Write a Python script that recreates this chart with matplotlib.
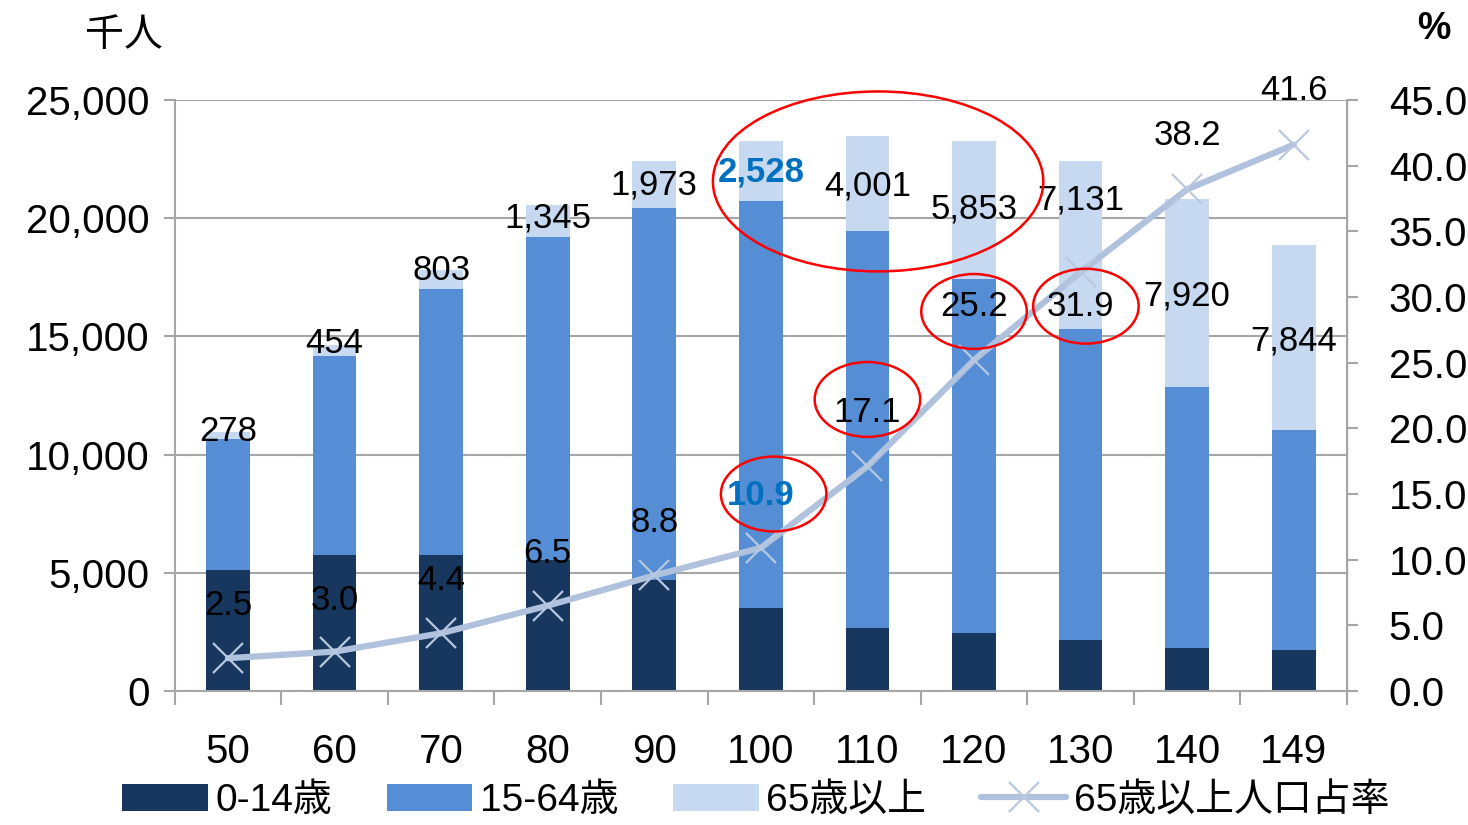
import matplotlib
matplotlib.use("Agg")
import matplotlib.pyplot as plt
from matplotlib.patches import Ellipse
from matplotlib.ticker import FuncFormatter, FixedLocator
import numpy as np

# 年度 (民国) と人口構成 (千人)
years = ["50", "60", "70", "80", "90", "100", "110", "120", "130", "140", "149"]
age_0_14 = [5120, 5750, 5750, 5540, 4700, 3510, 2660, 2450, 2160, 1820, 1730]
age_15_64 = [5560, 8430, 11250, 13680, 15750, 17230, 16810, 14970, 13140, 11060, 9300]
age_65 = [278, 454, 803, 1345, 1973, 2528, 4001, 5853, 7131, 7920, 7844]
ratio_65 = [2.5, 3.0, 4.4, 6.5, 8.8, 10.9, 17.1, 25.2, 31.9, 38.2, 41.6]

# ラベル位置の調整 (千人 / %)
label_shift_65 = [0, 80, 0, -560, -1000, -1300, -2100, -2900, -1650, -4070, -4060]
label_shift_ratio = [4.0, 3.9, 4.0, 4.0, 4.0, 4.0, 4.1, 4.1, -2.6, 4.1, 4.1]
highlight = {5}

C_DARK = "#17375E"
C_MID = "#558ED5"
C_LIGHT = "#C6D9F1"
C_LINE = "#B0C1DD"
C_BLUE = "#0070C0"

CJK = ["Liberation Sans", "Noto Sans CJK JP"]
plt.rcParams["font.family"] = CJK

fig = plt.figure(figsize=(14.68, 8.25), dpi=100)
ax = fig.add_axes([0.119, 0.1624, 0.7986, 0.7164])
ax2 = ax.twinx()

x = np.arange(len(years))
a = np.array(age_0_14)
b = np.array(age_15_64)
c = np.array(age_65)
w = 0.41
ax.bar(x, a, w, color=C_DARK, label="0-14歳", zorder=2)
ax.bar(x, b, w, bottom=a, color=C_MID, label="15-64歳", zorder=2)
ax.bar(x, c, w, bottom=a + b, color=C_LIGHT, label="65歳以上", zorder=2)

ax2.plot(x, ratio_65, color=C_LINE, lw=4.5, marker="x", ms=22, mew=1.6,
         mec="#B8C8E0", label="65歳以上人口占率", zorder=3, solid_capstyle="round")

ax.set_xlim(-0.5, len(years) - 0.5)
ax.set_ylim(0, 25000)
ax2.set_ylim(0, 45)
ax.set_yticks(np.arange(0, 25001, 5000))
ax2.set_yticks(np.arange(0, 45.1, 5))
ax.yaxis.set_major_formatter(FuncFormatter(lambda v, p: f"{v:,.0f}"))
ax2.yaxis.set_major_formatter(FuncFormatter(lambda v, p: f"{v:.1f}"))
ax.grid(axis="y", color="#A6A6A6", lw=1.5, zorder=0)
ax.set_axisbelow(True)

ax.set_xticks(x)
ax.set_xticklabels(years)
ax.xaxis.set_minor_locator(FixedLocator(np.arange(-0.5, len(years), 1)))
ax.tick_params(axis="x", which="major", length=0, pad=30, labelsize=29)
ax.tick_params(axis="x", which="minor", length=10, width=1.5, color="#A6A6A6")
ax.tick_params(axis="y", length=8, width=1.5, color="#A6A6A6", labelsize=29, pad=10)
ax2.tick_params(axis="y", length=8, width=1.5, color="#A6A6A6", labelsize=29, pad=22)

for sp in ["top"]:
    ax.spines[sp].set_visible(False)
    ax2.spines[sp].set_visible(False)
for s in [ax.spines["left"], ax.spines["bottom"], ax2.spines["right"]]:
    s.set_color("#A6A6A6")
    s.set_linewidth(1.5)
ax2.spines["left"].set_visible(False)
ax2.spines["bottom"].set_visible(False)

total = a + b + c
for i in range(len(years)):
    hl = i in highlight
    ax.text(x[i], total[i] + label_shift_65[i], f"{age_65[i]:,}", ha="center",
            va="center", fontsize=25, color=C_BLUE if hl else "black",
            fontweight="bold" if hl else "normal", zorder=5)
    ax2.text(x[i], ratio_65[i] + label_shift_ratio[i], f"{ratio_65[i]:.1f}",
             ha="center", va="center", fontsize=25,
             color=C_BLUE if hl else "black",
             fontweight="bold" if hl else "normal", zorder=5)

# 赤い楕円
ax2.add_patch(Ellipse((6.1, 38.8), 3.1, 13.7, fill=False, ec="red", lw=1.8,
                      zorder=6, clip_on=False))
for xi, yi in [(5.12, 15.0), (6.0, 22.2), (7.0, 28.9), (8.05, 29.3)]:
    ax2.add_patch(Ellipse((xi, yi), 0.99, 5.7, fill=False, ec="red", lw=1.8,
                          zorder=6, clip_on=False))

fig.text(0.058, 0.958, "千人", fontsize=28, va="center", family=["Noto Sans CJK JP"])
fig.text(0.977, 0.965, "%", fontsize=27, ha="center", va="center", fontweight="bold")

h1, l1 = ax.get_legend_handles_labels()
h2, l2 = ax2.get_legend_handles_labels()
fig.legend(h1 + h2, l1 + l2, loc="lower center", bbox_to_anchor=(0.515, -0.035),
           ncol=4, frameon=False, handlelength=2.2, handleheight=0.7,
           columnspacing=1.4, handletextpad=0.2,
           prop={"family": ["Liberation Sans", "Noto Sans CJK JP"], "size": 28})

fig.savefig("out.png", dpi=100)
